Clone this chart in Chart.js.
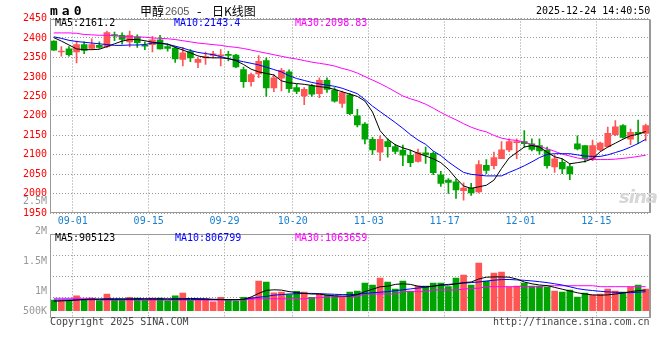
<!DOCTYPE html>
<html><head><meta charset="utf-8">
<script src="https://cdn.jsdelivr.net/npm/chart.js@4.4.1/dist/chart.umd.min.js"></script>
<style>
html,body{margin:0;padding:0;background:#fff;}
#wrap{position:relative;width:660px;height:360px;overflow:hidden;background:#fff;}
canvas{position:absolute;left:0;top:0;}
.t{position:absolute;white-space:pre;font-family:'DejaVu Sans Mono',monospace;font-size:10px;line-height:12px;}
</style></head><body>
<div id="wrap">
<canvas id="pc" width="660" height="360"></canvas>
<canvas id="vc" width="660" height="360"></canvas>
<div class="t" style="left:50px;top:3px;font-size:13px;line-height:16px;font-weight:bold;letter-spacing:4px;">ma0</div>
<div class="t" style="left:140px;top:3px;font-family:'Noto Sans CJK SC';font-size:12px;line-height:16px;">甲醇</div>
<div class="t" style="left:165px;top:4px;font-family:'Liberation Sans';font-size:11px;line-height:14px;color:#555;">2605</div>
<div class="t" style="left:197px;top:3px;font-family:'Noto Sans CJK SC';font-size:13px;line-height:16px;">-</div>
<div class="t" style="left:212px;top:3px;font-family:'Noto Sans CJK SC';font-size:12px;line-height:16px;">日K线图</div>
<div class="t" style="left:536px;top:5px;">2025-12-24 14:40:50</div>
<div class="t" style="left:55px;top:17px;color:#000;">MA5:2161.2</div>
<div class="t" style="left:174px;top:17px;color:#0000ff;">MA10:2143.4</div>
<div class="t" style="left:295px;top:17px;color:#ff00ff;">MA30:2098.83</div>
<div class="t" style="left:55px;top:232px;color:#000;">MA5:905123</div>
<div class="t" style="left:175px;top:232px;color:#0000ff;">MA10:806799</div>
<div class="t" style="left:295px;top:232px;color:#ff00ff;">MA30:1063659</div>
<div class="t" style="left:50px;top:316px;color:#444;">Copyright 2025 SINA.COM</div>
<div class="t" style="left:493px;top:316px;color:#444;">http://finance.sina.com.cn</div>
<div class="t" style="left:619px;top:186px;font-family:'DejaVu Sans';font-size:18px;line-height:22px;font-weight:bold;font-style:italic;color:#d6d6d6;letter-spacing:-1px;">sina</div>
</div>
<script>
// ---------- data ----------
const dates = ['08-28','08-29',
 '09-01','09-02','09-03','09-04','09-05','09-08','09-09','09-10','09-11','09-12',
 '09-15','09-16','09-17','09-18','09-19','09-22','09-23','09-24','09-25','09-26',
 '09-29','09-30','10-09','10-10','10-13','10-14','10-15','10-16','10-17',
 '10-20','10-21','10-22','10-23','10-24','10-27','10-28','10-29','10-30','10-31',
 '11-03','11-04','11-05','11-06','11-07','11-10','11-11','11-12','11-13','11-14',
 '11-17','11-18','11-19','11-20','11-21','11-24','11-25','11-26','11-27','11-28',
 '12-01','12-02','12-03','12-04','12-05','12-08','12-09','12-10','12-11','12-12',
 '12-15','12-16','12-17','12-18','12-19','12-22','12-23','12-24'];
const axisLabels = ['09-01','09-15','09-29','10-20','11-03','11-17','12-01','12-15'];
const priceTicks = [1950,2000,2050,2100,2150,2200,2250,2300,2350,2400,2450];

const open = [2392,2364,2372,2364,2383,2373,2381,2378,2409,2407,
 2390,2402,2382,2383,2395,2378,2374,2345,2365,2337,
 2349,2355,2354,2358,2356,2319,2288,2308,2342,2272,
 2297,2313,2273,2251,2277,2257,2291,2266,2232,2254,
 2200,2179,2140,2107,2134,2121,2112,2099,2083,2105,
 2104,2049,2035,2031,2008,2015,2005,2073,2072,2090,
 2113,2131,2134,2128,2124,2112,2069,2081,2070,2128,
 2124,2090,2113,2121,2152,2175,2140,2158,2155];
const close = [2369,2366,2357,2383,2368,2383,2376,2414,2405,2396,
 2407,2388,2379,2395,2372,2373,2346,2362,2349,2345,
 2352,2359,2357,2355,2326,2288,2306,2340,2272,2298,
 2317,2270,2263,2268,2256,2291,2268,2238,2260,2206,
 2177,2140,2113,2140,2121,2109,2099,2080,2106,2100,
 2054,2027,2029,2010,2015,2002,2075,2060,2093,2113,
 2134,2134,2129,2114,2110,2072,2090,2064,2051,2115,
 2090,2124,2130,2155,2172,2145,2158,2154,2175];
const high = [2393,2378,2378,2392,2390,2398,2390,2418,2415,2413,
 2418,2408,2390,2404,2407,2385,2378,2376,2370,2350,
 2364,2366,2370,2366,2358,2325,2310,2355,2349,2306,
 2322,2318,2281,2273,2281,2298,2298,2273,2264,2258,
 2217,2183,2145,2149,2141,2127,2125,2112,2115,2120,
 2108,2058,2039,2038,2028,2027,2085,2088,2107,2134,
 2141,2141,2162,2141,2141,2120,2099,2090,2077,2149,
 2124,2138,2133,2171,2188,2178,2166,2189,2179];
const low = [2368,2353,2353,2336,2360,2370,2373,2375,2393,2384,
 2377,2376,2370,2364,2371,2366,2337,2328,2339,2324,
 2332,2349,2328,2341,2324,2273,2276,2298,2250,2262,
 2264,2260,2257,2229,2250,2247,2260,2235,2222,2203,
 2172,2128,2101,2085,2094,2103,2072,2070,2081,2078,
 2049,2019,2001,1988,1984,1996,2002,2052,2064,2090,
 2108,2090,2120,2110,2101,2066,2055,2052,2036,2113,
 2081,2085,2111,2120,2149,2143,2126,2129,2136];

const ma5 = [2401,2392,2382,2372,2370,2370,2371,2378,2385,2392,
 2396,2396,2393,2389,2387,2384,2376,2369,2362,2354,
 2350,2349,2349,2347,2342,2332,2320,2313,2309,2305,
 2290,2285,2283,2281,2278,2275,2273,2268,2262,2256,
 2250,2238,2210,2162,2140,2126,2118,2112,2104,2097,
 2090,2080,2063,2040,2020,2014,2018,2022,2035,2065,
 2092,2106,2120,2124,2120,2107,2095,2090,2077,2080,
 2083,2090,2108,2120,2130,2140,2149,2153,2160];
const ma10 = [2403,2399,2394,2391,2389,2387,2385,2383,2381,2381,
 2382,2382,2383,2387,2386,2384,2379,2374,2368,2363,
 2360,2357,2352,2347,2343,2339,2335,2331,2325,2319,
 2313,2303,2296,2291,2286,2282,2279,2276,2271,2264,
 2257,2242,2225,2211,2197,2183,2168,2152,2138,2127,
 2110,2098,2082,2068,2055,2050,2048,2046,2046,2046,
 2055,2063,2072,2082,2093,2101,2103,2103,2103,2100,
 2097,2096,2096,2100,2106,2112,2120,2129,2140];
const ma30 = [2413,2413,2413,2412,2409,2408,2407,2407,2406,2404,
 2403,2403,2402,2400,2399,2398,2396,2393,2390,2387,
 2385,2383,2381,2378,2376,2373,2369,2365,2361,2357,
 2353,2349,2346,2342,2338,2335,2332,2328,2322,2317,
 2310,2301,2292,2283,2273,2262,2251,2244,2238,2230,
 2220,2209,2199,2190,2180,2171,2164,2159,2150,2143,
 2139,2137,2133,2126,2121,2116,2109,2102,2097,2092,
 2089,2088,2088,2088,2089,2091,2093,2096,2099];

const volume = [850000,850000,840000,920000,850000,880000,840000,950000,860000,850000,
 895000,880000,850000,880000,880000,840000,920000,967000,850000,850000,
 870000,820000,895000,850000,830000,895000,895000,1167000,1150000,970000,
 980000,940000,995000,980000,895000,950000,930000,920000,895000,983000,
 1000000,1133000,1100000,1217000,1150000,1033000,1167000,1000000,1083000,1083000,
 1133000,1133000,1072000,1217000,1267000,1100000,1467000,1167000,1300000,1317000,
 1067000,1083000,1133000,1083000,1083000,1067000,1000000,983000,1017000,900000,
 967000,933000,950000,1033000,1000000,983000,1067000,1100000,1033000];
const volBase = 672000;
const vma5 = [830000,835000,840000,850000,860000,865000,868000,870000,872000,870000,
 870000,872000,872000,870000,870000,870000,870000,872000,875000,873000,
 870000,862000,860000,857000,855000,860000,900000,960000,1010000,1020000,
 1015000,990000,975000,960000,950000,950000,930000,920000,915000,915000,
 940000,990000,1030000,1070000,1080000,1110000,1120000,1110000,1080000,1070000,
 1080000,1100000,1100000,1120000,1140000,1150000,1200000,1230000,1235000,1235000,
 1230000,1200000,1150000,1120000,1100000,1090000,1060000,1030000,1000000,970000,
 950000,935000,930000,935000,950000,965000,990000,1005000,1017000];
const vma10 = [850000,850000,852000,852000,855000,855000,857000,858000,858000,860000,
 860000,860000,862000,862000,862000,862000,860000,860000,860000,858000,
 858000,857000,857000,856000,856000,860000,880000,895000,910000,930000,
 940000,950000,955000,960000,960000,955000,950000,945000,940000,940000,
 945000,960000,970000,980000,990000,1005000,1020000,1035000,1050000,1062000,
 1080000,1100000,1110000,1120000,1130000,1140000,1150000,1165000,1180000,1190000,
 1192000,1185000,1178000,1168000,1155000,1140000,1120000,1100000,1070000,1040000,
 1020000,1008000,995000,985000,978000,975000,972000,980000,988000];
const vma30 = [878000,878000,878000,878000,878000,878000,850000,850000,850000,850000,
 850000,850000,850000,850000,850000,850000,850000,850000,850000,850000,
 850000,850000,850000,850000,850000,850000,865000,870000,870000,870000,
 870000,870000,870000,870000,880000,890000,900000,905000,905000,905000,
 910000,950000,950000,950000,950000,950000,990000,990000,990000,990000,
 1017000,1017000,1017000,1017000,1030000,1045000,1045000,1072000,1072000,1072000,
 1072000,1072000,1072000,1072000,1072000,1088000,1088000,1088000,1088000,1088000,
 1088000,1088000,1072000,1072000,1072000,1072000,1072000,1072000,1072000];
const volTickValues = [2500000,2000000,1500000,1000000,500000];
const volTickLabels = ['2.5M','2M','1.5M','1M','500K'];

// ---------- styles ----------
const UP = '#ff5555', DOWN = '#00a400', GRID = '#999999';
Chart.defaults.font.family = "'DejaVu Sans Mono', monospace";
Chart.defaults.font.size = 10;

const candleColor = open.map((o, i) => close[i] >= o ? UP : DOWN);
const vGridColor = c => {
  const k = c.index - 1;
  return (k >= 0 && k < dates.length && axisLabels.includes(dates[k])) ? GRID : 'rgba(0,0,0,0)';
};
const boxPlugin = {
  id: 'box',
  afterDraw(chart) {
    const {ctx, chartArea: a} = chart;
    ctx.save();
    ctx.setLineDash([]);
    ctx.strokeStyle = '#999';
    ctx.lineWidth = 1;
    const l = Math.round(a.left) + 0.5, t = Math.round(a.top) + 0.5;
    const r = Math.round(a.right) - 0.5, b = Math.round(a.bottom) - 0.5;
    ctx.strokeRect(l, t, r - l, b - t);
    ctx.beginPath(); ctx.moveTo(r + 1, t); ctx.lineTo(r + 1, b + 0.5); ctx.stroke();
    ctx.restore();
  }
};
const lineDs = (data, color) => ({type: 'line', data, borderColor: color, borderWidth: 1,
  pointRadius: 0, tension: 0, fill: false, order: 0});

new Chart(document.getElementById('pc'), {
  type: 'bar',
  data: {
    labels: dates,
    datasets: [
      lineDs(ma5, '#000000'), lineDs(ma10, '#0000ff'), lineDs(ma30, '#ff00ff'),
      {label: 'body', data: open.map((o, i) => [o, close[i]]), backgroundColor: candleColor,
       barThickness: 6, minBarLength: 1, grouped: false, borderWidth: 0, order: 1},
      {label: 'wick', data: low.map((l, i) => [l, high[i]]), backgroundColor: candleColor,
       barThickness: 1, grouped: false, borderWidth: 0, order: 2}
    ]
  },
  options: {
    responsive: false, animation: false, events: [],
    layout: {padding: {top: 18.5, left: 0, right: 10.5, bottom: 130.7}},
    plugins: {legend: {display: false}, tooltip: {enabled: false}},
    scales: {
      x: {
        offset: true,
        grid: {offset: true, drawTicks: false, color: vGridColor, lineWidth: 1},
        border: {display: false, dash: [1, 2]},
        ticks: {autoSkip: false, maxRotation: 0, minRotation: 0, color: '#1a7fcf', padding: 2,
          labelOffset: 3.8, callback: (v, i) => axisLabels.includes(dates[i]) ? dates[i] : ''},
        afterFit: s => { s.height = 16; }
      },
      y: {
        min: 1950, max: 2450,
        afterBuildTicks: s => { s.ticks = priceTicks.map(v => ({value: v})); },
        ticks: {autoSkip: false, color: '#ff0000', padding: 3, callback: v => String(v)},
        grid: {color: GRID, drawTicks: false},
        border: {display: false, dash: [1, 2]},
        afterFit: s => { s.width = 50; }
      }
    }
  },
  plugins: [boxPlugin]
});

const volLabelPlugin = {
  id: 'volLabels',
  afterDraw(chart) {
    const {ctx, chartArea: a} = chart;
    const s = chart.scales.y;
    ctx.save();
    ctx.fillStyle = '#999';
    ctx.font = "10px 'DejaVu Sans Mono', monospace";
    ctx.textAlign = 'right';
    ctx.textBaseline = 'middle';
    volTickValues.forEach((v, i) => {
      const y = Math.min(s.getPixelForValue(v), a.bottom - 7);
      ctx.fillText(volTickLabels[i], 47, y);
    });
    ctx.restore();
  }
};

new Chart(document.getElementById('vc'), {
  type: 'bar',
  data: {
    labels: dates,
    datasets: [
      lineDs(vma5, '#000000'), lineDs(vma10, '#0000ff'), lineDs(vma30, '#ff00ff'),
      {label: 'vol', data: volume, base: volBase, backgroundColor: candleColor,
       barThickness: 6, borderWidth: 0, order: 1}
    ]
  },
  options: {
    responsive: false, animation: false, events: [],
    layout: {padding: {top: 234.3, left: 0, right: 10.5, bottom: 41.7}},
    plugins: {legend: {display: false}, tooltip: {enabled: false}},
    scales: {
      x: {
        offset: true,
        grid: {offset: true, drawTicks: false, color: vGridColor, lineWidth: 1},
        border: {display: false, dash: [1, 2]},
        ticks: {display: false},
        afterFit: s => { s.height = 0; }
      },
      y: {
        min: 545000, max: 1945000,
        ticks: {display: false},
        afterBuildTicks: s => { s.ticks = [1, 2, 3].map(k => ({value: s.min + (s.max - s.min) * k / 4})); },
        grid: {color: GRID, drawTicks: false},
        border: {display: false, dash: [1, 2]},
        afterFit: s => { s.width = 50; }
      }
    }
  },
  plugins: [boxPlugin, volLabelPlugin]
});
</script>
</body></html>
